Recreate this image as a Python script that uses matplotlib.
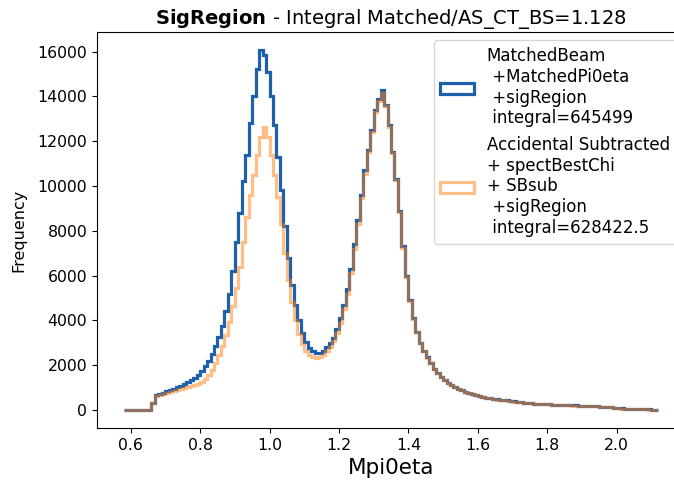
import matplotlib
matplotlib.use("Agg")
import matplotlib.pyplot as plt
import numpy as np

# bin edges of the Mpi0eta histogram (width 0.01)
edges = np.round(np.arange(0.58, 2.1201, 0.01), 3)
centers = (edges[:-1] + edges[1:]) / 2

matched = [
    0, 0, 0, 0, 0, 0, 0, 0, 300, 650,                                   # 0.58-0.68
    720, 770, 830, 890, 950, 1010, 1080, 1150, 1230, 1320,              # 0.68-0.78
    1420, 1550, 1720, 1950, 2200, 2500, 2850, 3250, 3750, 4400,         # 0.78-0.88
    5200, 6200, 7500, 8800, 10200, 11400, 12800, 14000, 15200, 16070,   # 0.88-0.98
    15850, 15100, 14000, 12700, 11300, 9800, 8200, 6800, 5600, 4700,    # 0.98-1.08
    4000, 3450, 3050, 2780, 2630, 2540, 2540, 2640, 2800, 2980,         # 1.08-1.18
    3220, 3600, 4100, 4700, 5400, 6300, 7400, 8500, 9600, 10700,        # 1.18-1.28
    11600, 12500, 13400, 13900, 14280, 13600, 12700, 11500, 10300, 8900, # 1.28-1.38
    7300, 6000, 4900, 4100, 3500, 3000, 2650, 2350, 2100, 1850,         # 1.38-1.48
    1650, 1480, 1340, 1220, 1110, 1020, 950, 880, 820, 770,             # 1.48-1.58
    720, 670, 630, 590, 555, 520, 495, 470, 450, 430,                   # 1.58-1.68
    425, 400, 380, 360, 340, 325, 310, 300, 290, 280,                   # 1.68-1.78
    275, 265, 255, 245, 240, 230, 225, 215, 210, 205,                   # 1.78-1.88
    215, 195, 190, 180, 175, 170, 160, 150, 140, 130,                   # 1.88-1.98
    120, 110, 90, 70, 55, 45, 40, 35, 30, 30,                           # 1.98-2.08
    25, 25, 20, 20,                                                     # 2.08-2.12
]

subtracted = [
    0, 0, 0, 0, 0, 0, 0, 0, 300, 620,                                   # 0.58-0.68
    680, 720, 760, 800, 840, 880, 920, 960, 1010, 1060,                 # 0.68-0.78
    1110, 1170, 1250, 1380, 1570, 1800, 2100, 2450, 2850, 3350,         # 0.78-0.88
    3950, 4650, 5450, 6400, 7500, 8600, 9600, 10500, 11400, 12200,      # 0.88-0.98
    12650, 12200, 11400, 10500, 9500, 8300, 7000, 5800, 4800, 4000,     # 0.98-1.08
    3400, 2950, 2650, 2450, 2350, 2320, 2350, 2450, 2620, 2820,         # 1.08-1.18
    3080, 3420, 3900, 4500, 5200, 6100, 7200, 8300, 9450, 10550,        # 1.18-1.28
    11500, 12400, 13300, 13800, 14150, 13550, 12650, 11450, 10250, 8850, # 1.28-1.38
    7250, 5950, 4850, 4080, 3480, 2980, 2630, 2340, 2090, 1840,         # 1.38-1.48
    1640, 1470, 1330, 1210, 1100, 1010, 940, 875, 815, 765,             # 1.48-1.58
    715, 665, 625, 585, 550, 520, 490, 465, 445, 435,                   # 1.58-1.68
    415, 395, 375, 355, 335, 320, 305, 295, 285, 275,                   # 1.68-1.78
    265, 260, 250, 240, 235, 225, 220, 210, 205, 200,                   # 1.78-1.88
    195, 190, 185, 180, 175, 170, 160, 150, 140, 130,                   # 1.88-1.98
    120, 105, 85, 65, 50, 40, 35, 30, 30, 25,                           # 1.98-2.08
    25, 20, 20, 20,                                                     # 2.08-2.12
]

label_matched = "MatchedBeam\n +MatchedPi0eta\n +sigRegion\n integral=645499"
label_sub = "Accidental Subtracted\n+ spectBestChi\n+ SBsub\n +sigRegion\n integral=628422.5"

fig = plt.figure(figsize=(6.74, 4.83), dpi=100)
ax = fig.add_axes([97 / 674, 1 - 428 / 483, 588 / 674, 396 / 483])
ax.use_sticky_edges = False
ax.margins(0.05)

ax.hist(centers, bins=edges, weights=matched, histtype="step", lw=2.3,
        color="#1f60ad", label=label_matched)
ax.hist(centers, bins=edges, weights=subtracted, histtype="step", lw=2.3,
        color="#ff7f0e", alpha=0.5, label=label_sub)

ax.set_title(r"$\bf{SigRegion}$ - Integral Matched/AS_CT_BS=1.128", fontsize=14)
ax.set_xlabel("Mpi0eta", fontsize=15.5)
ax.set_ylabel("Frequency", fontsize=11.5, labelpad=8)
ax.tick_params(labelsize=11.3)
ax.set_xticks([0.6, 0.8, 1.0, 1.2, 1.4, 1.6, 1.8, 2.0])
ax.legend(loc="upper right", fontsize=12)

fig.savefig("out.png", dpi=100)
